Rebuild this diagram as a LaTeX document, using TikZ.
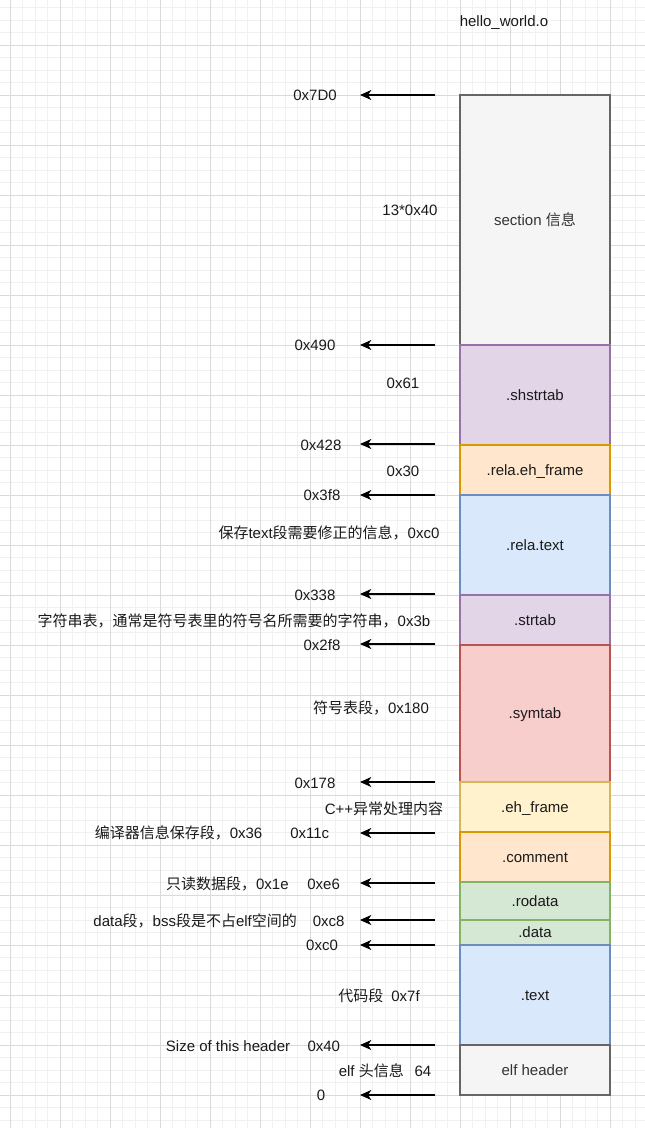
\documentclass[tikz,border=0pt]{standalone}
\usepackage{fontspec}
\setmainfont{Liberation Sans}
\newfontfamily\cjk{Noto Sans CJK SC}
\newcommand{\zh}[1]{{\cjk #1}}
\usetikzlibrary{arrows.meta,positioning}
\definecolor{GreyFill}{HTML}{F5F5F5}
\definecolor{GreyLine}{HTML}{666666}
\definecolor{GreyText}{HTML}{333333}
\definecolor{PurpleFill}{HTML}{E1D5E7}
\definecolor{PurpleLine}{HTML}{9673A6}
\definecolor{OrangeFill}{HTML}{FFE6CC}
\definecolor{OrangeLine}{HTML}{D79B00}
\definecolor{BlueFill}{HTML}{DAE8FC}
\definecolor{BlueLine}{HTML}{6C8EBF}
\definecolor{RedFill}{HTML}{F8CECC}
\definecolor{RedLine}{HTML}{B85450}
\definecolor{YellowFill}{HTML}{FFF2CC}
\definecolor{YellowLine}{HTML}{D6B656}
\definecolor{GreenFill}{HTML}{D5E8D4}
\definecolor{GreenLine}{HTML}{82B366}
\definecolor{GridMajor}{HTML}{DADADA}
\definecolor{GridMinor}{HTML}{F1F1F1}
\definecolor{Ink}{HTML}{1A1A1A}
\tikzset{
  label text/.style={font=\fontsize{11.25}{13.5}\selectfont,text height=10.2pt,text depth=2.4pt,text=Ink},
  seg/.style={draw,line width=0.9pt,minimum width=112.5pt,outer sep=0pt,inner sep=0pt,align=center,label text},
  greyseg/.style={seg,draw=GreyLine,fill=GreyFill,text=GreyText},
  purpleseg/.style={seg,draw=PurpleLine,fill=PurpleFill},
  orangeseg/.style={seg,draw=OrangeLine,fill=OrangeFill},
  blueseg/.style={seg,draw=BlueLine,fill=BlueFill},
  redseg/.style={seg,draw=RedLine,fill=RedFill},
  yellowseg/.style={seg,draw=YellowLine,fill=YellowFill},
  greenseg/.style={seg,draw=GreenLine,fill=GreenFill},
  addr/.style={inner sep=0pt,label text},
  note/.style={inner sep=0pt,label text},
  addrarrow/.style={-{Stealth[length=8.5pt,width=7.5pt,inset=2.5pt]},draw=black,line width=0.9pt}
}
\begin{document}
\begin{tikzpicture}[x=0.75pt,y=-0.75pt]
  \useasboundingbox (0,0) rectangle (645,1128);
  \fill[white] (0,0) rectangle (645,1128);
  % background grid
  \foreach \gx in {10,22.5,...,645} \draw[GridMinor,line width=0.5pt] (\gx,0) -- (\gx,1128);
  \foreach \gy in {7.5,20,...,1128} \draw[GridMinor,line width=0.5pt] (0,\gy) -- (645,\gy);
  \foreach \gx in {10,60,...,610} \draw[GridMajor,line width=0.6pt] (\gx,0) -- (\gx,1128);
  \foreach \gy in {45,95,...,1095} \draw[GridMajor,line width=0.6pt] (0,\gy) -- (645,\gy);

  \node[note] (title) at (504,21) {hello\_world.o};

  % sections of the object file
  \node[greyseg,minimum height=187.5pt,anchor=north west] (section) at (460,95) {section \zh{信息}};
  \node[purpleseg,minimum height=75pt,below=0pt of section] (shstrtab) {.shstrtab};
  \node[orangeseg,minimum height=37.5pt,below=0pt of shstrtab] (relaeh) {.rela.eh\_frame};
  \node[blueseg,minimum height=75pt,below=0pt of relaeh] (relatext) {.rela.text};
  \node[purpleseg,minimum height=37.5pt,below=0pt of relatext] (strtab) {.strtab};
  \node[redseg,minimum height=102.75pt,below=0pt of strtab] (symtab) {.symtab};
  \node[yellowseg,minimum height=37.5pt,below=0pt of symtab] (ehframe) {.eh\_frame};
  \node[orangeseg,minimum height=37.5pt,below=0pt of ehframe] (comment) {.comment};
  \node[greenseg,minimum height=28.5pt,below=0pt of comment] (rodata) {.rodata};
  \node[greenseg,minimum height=18.75pt,below=0pt of rodata] (data) {.data};
  \node[blueseg,minimum height=75pt,below=0pt of data] (text) {.text};
  \node[greyseg,minimum height=37.5pt,below=0pt of text] (elfheader) {elf header};

  % offset arrows
  \foreach \name/\y in {p7D0/95,p490/345,p428/444,p3f8/495,p338/594,p2f8/644,p178/782,p11c/833,pe6/883,pc8/920,pc0/945,p40/1045,p0/1095}{
    \coordinate (\name-from) at (435,\y);
    \coordinate (\name-to) at (360,\y);
    \draw[addrarrow] (\name-from) -- (\name-to);
  }

  % offsets
  \node[addr] (addr7D0) at (315,95) {0x7D0};
  \node[addr] (addr490) at (315,345) {0x490};
  \node[addr] (addr428) at (321,445) {0x428};
  \node[addr] (addr3f8) at (322,495) {0x3f8};
  \node[addr] (addr338) at (315,595) {0x338};
  \node[addr] (addr2f8) at (322,645) {0x2f8};
  \node[addr] (addr178) at (315,783) {0x178};
  \node[addr] (addrc0) at (322,945) {0xc0};
  \node[addr] (addr0) at (321,1095) {0};

  % sizes and notes
  \node[note] (sizesection) at (410,210) {13*0x40};
  \node[note] (sizeshstrtab) at (403,383) {0x61};
  \node[note] (sizerelaeh) at (403,471) {0x30};
  \node[note] (noterelatext) at (329,533) {\zh{保存}text\zh{段需要修正的信息，}0xc0};
  \node[note] (notestrtab) at (234,621) {\zh{字符串表，通常是符号表里的符号名所需要的字符串，}0x3b};
  \node[note] (notesymtab) at (371,708) {\zh{符号表段，}0x180};
  \node[note] (noteehframe) at (384,809) {C++\zh{异常处理内容}};
  \node[note] (notecomment) at (212,833) {\zh{编译器信息保存段，}0x36\hspace{21pt}0x11c};
  \node[note] (noterodata) at (253,884) {\zh{只读数据段，}0x1e\hspace{14pt}0xe6};
  \node[note] (notedata) at (219,921) {data\zh{段，}bss\zh{段是不占}elf\zh{空间的}\hspace{12pt}0xc8};
  \node[note] (notetext) at (379,996) {\zh{代码段}\hspace{6pt}0x7f};
  \node[note] (noteheadersize) at (253,1046) {Size of this header\hspace{13pt}0x40};
  \node[note] (noteheader) at (385,1071) {elf \zh{头信息}\hspace{8pt}64};
\end{tikzpicture}
\end{document}
